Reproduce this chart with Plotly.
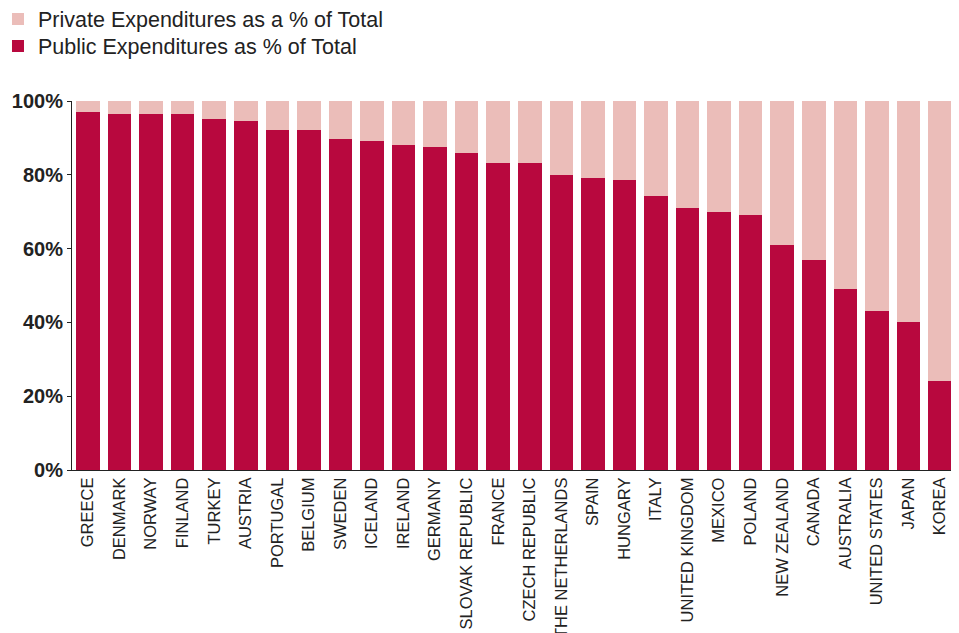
import plotly.graph_objects as go

countries = ["GREECE", "DENMARK", "NORWAY", "FINLAND", "TURKEY", "AUSTRIA", "PORTUGAL",
             "BELGIUM", "SWEDEN", "ICELAND", "IRELAND", "GERMANY", "SLOVAK REPUBLIC",
             "FRANCE", "CZECH REPUBLIC", "THE NETHERLANDS", "SPAIN", "HUNGARY", "ITALY",
             "UNITED KINGDOM", "MEXICO", "POLAND", "NEW ZEALAND", "CANADA", "AUSTRALIA",
             "UNITED STATES", "JAPAN", "KOREA"]
public = [97.0, 96.5, 96.5, 96.5, 95.1, 94.6, 92.1, 92.1, 89.7, 89.2, 88.1, 87.5, 86.0,
          83.2, 83.2, 80.0, 79.0, 78.6, 74.3, 71.0, 70.0, 69.1, 61.0, 57.0, 49.0,
          43.0, 40.0, 24.0]
private = [round(100 - v, 1) for v in public]
tick_vals = [0, 20, 40, 60, 80, 100]
tick_text = ["0%", "20%", "40%", "60%", "80%", "100%"]

fig = go.Figure()
fig.add_trace(go.Bar(x=countries, y=public, name="Public Expenditures as % of Total",
                     marker=dict(color="#B8083E", line=dict(width=0)), legend="legend2"))
fig.add_trace(go.Bar(x=countries, y=private, name="Private Expenditures as a % of Total",
                     marker=dict(color="#EBBDB9", line=dict(width=0)), legend="legend"))

leg_common = dict(xref="paper", yref="paper", x=-0.0841, xanchor="left", yanchor="middle",
                  font=dict(size=21.5, color="#222"), bgcolor="rgba(0,0,0,0)")

fig.update_layout(
    width=959, height=633,
    barmode="stack", bargap=0.255,
    paper_bgcolor="white", plot_bgcolor="white",
    margin=dict(l=64, r=15, t=93, b=171, autoexpand=False),
    font=dict(family="Liberation Sans, Arial, sans-serif", color="#222"),
    showlegend=True,
    legend=dict(y=1.2222, **leg_common),
    legend2=dict(y=1.149, **leg_common),
    xaxis=dict(range=[-0.507, 27.38], tickangle=-90, showgrid=False,
               tickfont=dict(size=16.5, color="#222"), showline=True,
               linecolor="#222", linewidth=1, ticks=""),
    yaxis=dict(range=[0, 100], tickvals=tick_vals, ticktext=tick_text,
               showgrid=False, zeroline=False, showline=True, linecolor="#222",
               linewidth=1, ticks="outside", ticklen=4, tickcolor="#222",
               tickfont=dict(size=20, color="#222", family="Liberation Sans, Arial, sans-serif",
                             weight="bold")),
)

fig.write_html("out.html")
